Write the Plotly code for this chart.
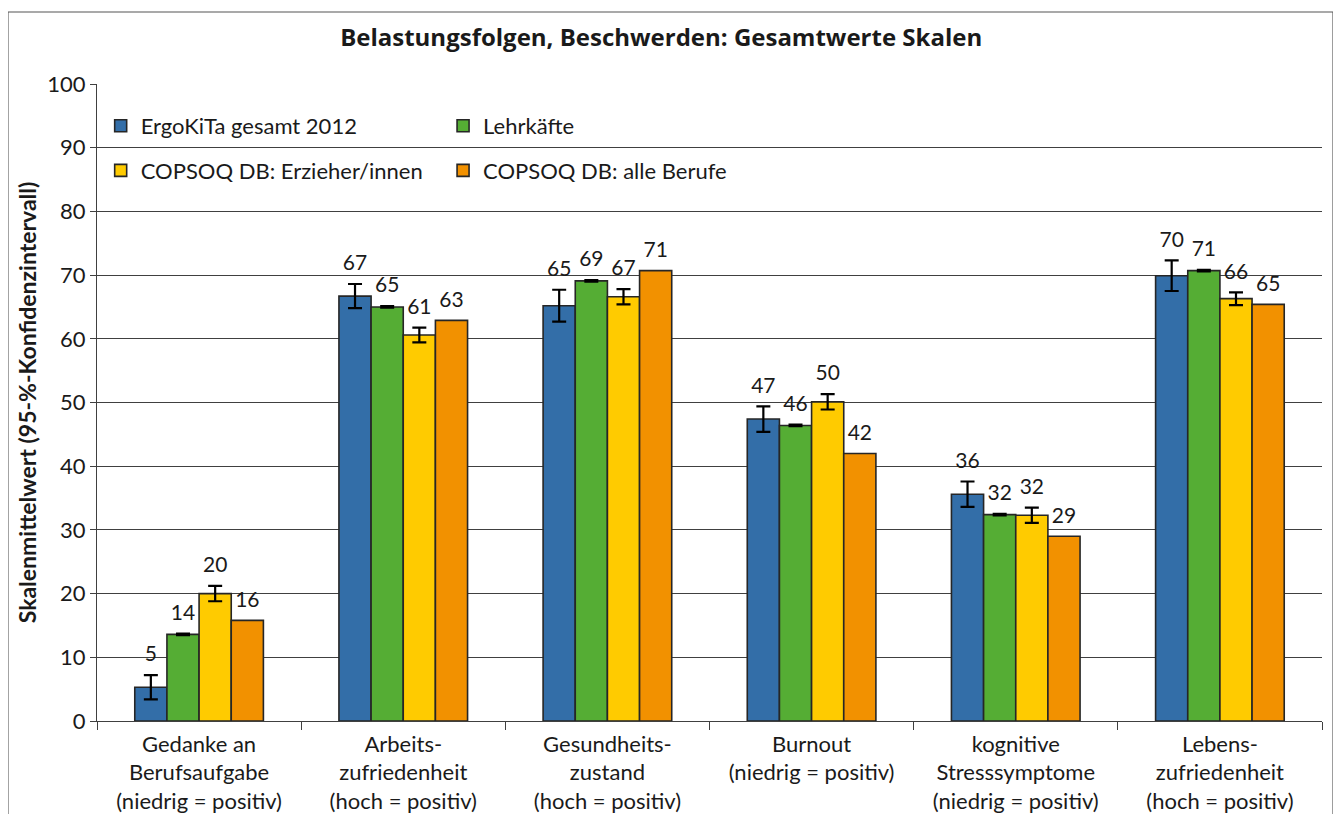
import plotly.graph_objects as go

kategorien = [
    "Gedanke an<br>Berufsaufgabe<br>(niedrig = positiv)",
    "Arbeits-<br>zufriedenheit<br>(hoch = positiv)",
    "Gesundheits-<br>zustand<br>(hoch = positiv)",
    "Burnout<br>(niedrig = positiv)",
    "kognitive<br>Stresssymptome<br>(niedrig = positiv)",
    "Lebens-<br>zufriedenheit<br>(hoch = positiv)",
]

ergokita = [5.3, 66.7, 65.2, 47.4, 35.6, 69.9]
ergokita_ki = [1.9, 1.9, 2.5, 2.0, 2.0, 2.4]
lehrkraefte = [13.6, 65.0, 69.1, 46.4, 32.4, 70.7]
lehrkraefte_ki = [0.12, 0.12, 0.12, 0.12, 0.12, 0.12]
erzieher = [20.0, 60.6, 66.6, 50.1, 32.3, 66.3]
erzieher_ki = [1.2, 1.15, 1.2, 1.2, 1.2, 1.0]
alle_berufe = [15.8, 62.9, 70.7, 42.0, 29.0, 65.4]
alle_berufe_ki = [0, 0, 0, 0, 0, 0]

y_ticks = [0, 10, 20, 30, 40, 50, 60, 70, 80, 90, 100]

SCHRIFT = "Lato"
TEXTFARBE = "#1a1a1a"

serien = [
    ("ErgoKiTa gesamt 2012", ergokita, ergokita_ki, "#336ea8", "legend"),
    ("Lehrkäfte", lehrkraefte, lehrkraefte_ki, "#55ad34", "legend2"),
    ("COPSOQ DB: Erzieher/innen", erzieher, erzieher_ki, "#ffcb00", "legend"),
    ("COPSOQ DB: alle Berufe", alle_berufe, alle_berufe_ki, "#f29100", "legend2"),
]

fig = go.Figure()

for i, (name, werte, ki, farbe, leg) in enumerate(serien):
    fig.add_trace(go.Bar(
        name=name,
        x=kategorien,
        y=werte,
        marker=dict(color=farbe, line=dict(color="#262626", width=1.6)),
        error_y=dict(type="data", array=ki, visible=any(k > 0 for k in ki),
                     color="black", thickness=2.2, width=7),
        offsetgroup=str(i),
        alignmentgroup="a",
        legend=leg,
        legendgroup=name,
        hovertemplate="%{x}<br>" + name + ": %{y:.1f}<extra></extra>",
    ))

# Zahlen über den Balken (über dem Fehlerbalken)
for i, (name, werte, ki, farbe, leg) in enumerate(serien):
    fig.add_trace(go.Scatter(
        x=kategorien,
        y=[w + k for w, k in zip(werte, ki)],
        text=[f"{w:.0f}" for w in werte],
        mode="markers+text",
        marker=dict(size=12, color="rgba(0,0,0,0)"),
        textposition="top center",
        textfont=dict(family=SCHRIFT, size=21, color=TEXTFARBE),
        offsetgroup=str(i),
        alignmentgroup="a",
        showlegend=False,
        hoverinfo="skip",
    ))

# Rahmen um die Grafik (unten abgeschnitten)
rahmen = dict(type="line", xref="paper", yref="paper",
              line=dict(color="#555555", width=1.2))
fig.add_shape(rahmen, x0=-0.0727, x1=-0.0727, y0=-0.3, y1=1.113)
fig.add_shape(rahmen, x0=1.009, x1=1.009, y0=-0.3, y1=1.113)
fig.add_shape(rahmen, x0=-0.0727, x1=1.009, y0=1.113, y1=1.113)

fig.update_layout(
    width=1333,
    height=806,
    margin=dict(l=89, r=19, t=76, b=93),
    paper_bgcolor="white",
    plot_bgcolor="white",
    barmode="group",
    bargap=0.37,
    bargroupgap=0,
    scattermode="group",
    scattergap=0.37,
    font=dict(family=SCHRIFT, size=22, color=TEXTFARBE),
    title=dict(
        text="<b>Belastungsfolgen, Beschwerden: Gesamtwerte Skalen</b>",
        font=dict(family="Open Sans", size=24, color=TEXTFARBE),
        xref="container", x=0.49, xanchor="center",
        yref="container", y=1 - 30 / 806, yanchor="middle",
    ),
    xaxis=dict(
        automargin=False,
        showline=True, linecolor="#404040", linewidth=1.2,
        ticks="outside", tickson="boundaries", ticklen=8,
        tickcolor="#404040", tickfont=dict(size=22),
        ticklabelstandoff=3,
        showgrid=False,
    ),
    yaxis=dict(
        automargin=False,
        range=[0, 100],
        tickvals=y_ticks,
        showline=True, linecolor="#404040", linewidth=1.2,
        ticks="outside", ticklen=6, tickcolor="#404040",
        showgrid=True, gridcolor="#404040", gridwidth=1.2,
        zeroline=False,
        tickfont=dict(size=22),
        title=dict(text="<b>Skalenmittelwert (95-%-Konfidenzintervall)</b>",
                   font=dict(size=23), standoff=4),
    ),
    legend=dict(
        x=0.003, y=0.967, xanchor="left", yanchor="top",
        bgcolor="rgba(0,0,0,0)", traceorder="grouped", tracegroupgap=13,
        font=dict(size=22),
    ),
    legend2=dict(
        x=0.2825, y=0.967, xanchor="left", yanchor="top",
        bgcolor="rgba(0,0,0,0)", traceorder="grouped", tracegroupgap=13,
        font=dict(size=22),
    ),
)

fig.write_html("out.html")
